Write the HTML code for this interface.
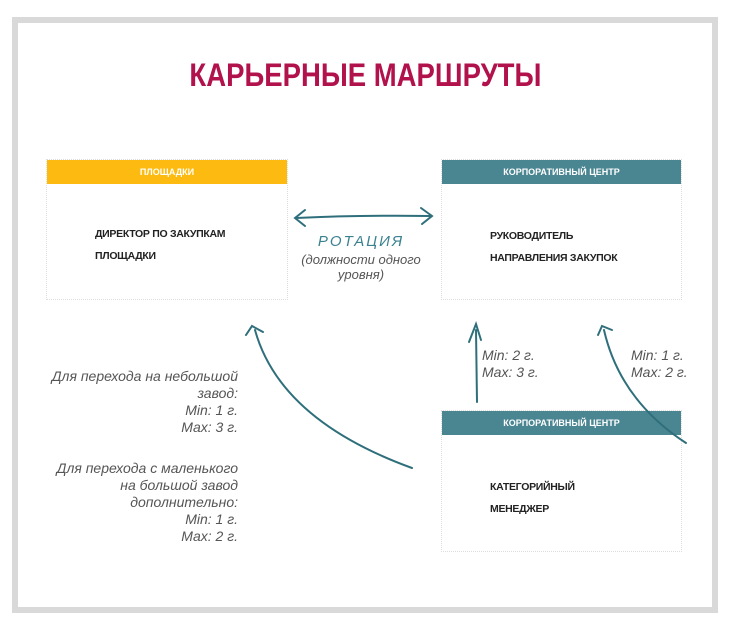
<!DOCTYPE html>
<html><head><meta charset="utf-8"><style>
body{margin:0;width:731px;height:629px;background:#fff;position:relative;overflow:hidden;font-family:"Liberation Sans",sans-serif}
.frame{position:absolute;left:12px;top:17px;width:694px;height:584px;border:6px solid #d9d9d9;background:#fff}
.t{position:absolute;white-space:nowrap}
.box{position:absolute;border:1px dotted #ddd;background:#fff}
.hd{position:absolute;left:0;top:0;right:0;height:24px;color:#fff;font-size:9px;font-weight:bold;text-align:center;line-height:24px}
.bt{position:absolute;font-size:10.5px;font-weight:bold;color:#222;line-height:22px;letter-spacing:-0.3px}
.hw{position:absolute;font-family:"Liberation Sans Narrow","Liberation Sans",sans-serif;font-style:italic;color:#555;font-size:14px;line-height:17px;text-align:right;transform-origin:right top}
</style></head><body>
<div class="frame"></div>
<div class="t" style="left:0;width:731px;top:57px;text-align:center;font-size:32px;font-weight:bold;color:#b2124c;transform:scaleX(0.86);transform-origin:365px 0">КАРЬЕРНЫЕ МАРШРУТЫ</div>

<div class="box" style="left:46px;top:159px;width:240px;height:139px"><div class="hd" style="background:#fdbb11">ПЛОЩАДКИ</div>
<div class="bt" style="left:48px;top:63px">ДИРЕКТОР ПО ЗАКУПКАМ<br>ПЛОЩАДКИ</div></div>
<div class="box" style="left:441px;top:159px;width:239px;height:139px"><div class="hd" style="background:#4a8592">КОРПОРАТИВНЫЙ ЦЕНТР</div>
<div class="bt" style="left:48px;top:65px">РУКОВОДИТЕЛЬ<br>НАПРАВЛЕНИЯ ЗАКУПОК</div></div>
<div class="box" style="left:441px;top:410px;width:239px;height:140px"><div class="hd" style="background:#4a8592">КОРПОРАТИВНЫЙ ЦЕНТР</div>
<div class="bt" style="left:48px;top:65px">КАТЕГОРИЙНЫЙ<br>МЕНЕДЖЕР</div></div>

<svg style="position:absolute;left:0;top:0" width="731" height="629">
<g fill="none" stroke="#2f6f7b" stroke-width="2" stroke-linecap="round">
<path d="M296 218 Q362 215 430 216"/><path d="M305 210 L295 218 L305 226"/><path d="M421 208 L432 216 L422 224"/>
<path d="M412 468 Q280 420 255 330"/><path d="M246 335 L252 326 L263 332"/>
<path d="M477 402 L476 330"/><path d="M469 342 L476 324 L481 340"/>
<path d="M686 443 Q620 400 604 330"/><path d="M598 335 L602 326 L612 330"/>
</g></svg>
<div class="t" style="left:300px;top:233px;width:122px;text-align:center;color:#3b8290;font-size:15px;letter-spacing:2px;font-style:italic">РОТАЦИЯ</div>
<div class="t" style="left:300px;top:252px;width:122px;text-align:center;color:#555;font-size:13px;font-style:italic;line-height:15px">(должности одного<br>уровня)</div>

<div class="hw" style="left:30px;top:368px;width:208px">Для перехода на небольшой<br>завод:<br>Min: 1 г.<br>Max: 3 г.</div>
<div class="hw" style="left:30px;top:460px;width:208px">Для перехода с маленького<br>на большой завод<br>дополнительно:<br>Min: 1 г.<br>Max: 2 г.</div>
<div class="hw" style="left:482px;top:347px;text-align:left">Min: 2 г.<br>Max: 3 г.</div>
<div class="hw" style="left:631px;top:347px;text-align:left">Min: 1 г.<br>Max: 2 г.</div>
</body></html>
